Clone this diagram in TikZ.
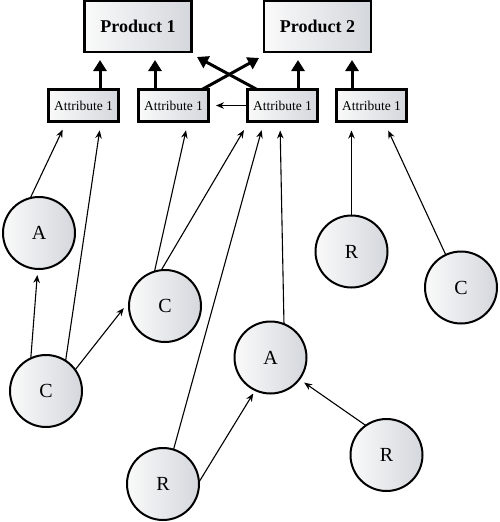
\documentclass[tikz,border=0pt]{standalone}
\usepackage{fontspec}
\setmainfont{Liberation Serif}
\usetikzlibrary{arrows.meta,calc}
\definecolor{shL}{RGB}{250,250,250}
\definecolor{shR}{RGB}{212,215,220}
\begin{document}
\begin{tikzpicture}[x=1pt,y=-1pt]
\tikzset{
 prod/.style={draw, line width=2.6pt, left color=shL, right color=shR, minimum width=107pt, minimum height=51pt, inner sep=0pt, outer sep=0pt, font=\fontsize{18}{21}\selectfont\bfseries},
 attr/.style={draw, line width=2.6pt, left color=shL, right color=shR, minimum width=70pt, minimum height=32pt, inner sep=0pt, outer sep=0pt, font=\fontsize{13.5}{16}\selectfont},
 circ/.style={circle, draw, line width=2pt, left color=shL, right color=shR, minimum size=72pt, inner sep=0pt, outer sep=0pt, font=\fontsize{20}{22}\selectfont},
 thinarr/.style={line width=1.1pt, -{Stealth[length=8pt,width=6.5pt]}},
 bigarr/.style={line width=3pt, -{Triangle[length=11pt,width=13pt]}},
}
\useasboundingbox (0,0) rectangle (500,522);
% products
\node[prod] (p1) at (138,26.5) {Product 1};
\node[prod] (p2) at (317.5,26.5) {Product 2};
% attributes
\node[attr] (a1) at (83.5,105.5) {Attribute 1};
\node[attr] (a2) at (173.5,105.5) {Attribute 1};
\node[attr] (a3) at (282.5,105.5) {Attribute 1};
\node[attr] (a4) at (371.5,105.5) {Attribute 1};
% circles
\node[circ] (cA) at (39,233) {A};
\node[circ] (cC2) at (165,306) {C};
\node[circ] (cR1) at (351.5,251.5) {R};
\node[circ] (cC3) at (461,287.5) {C};
\node[circ] (cC1) at (46,391) {C};
\node[circ] (cAm) at (270.5,357.5) {A};
\node[circ] (cRb) at (163,484) {R};
\node[circ] (cRr) at (386.5,455) {R};
% thick arrows
\draw[bigarr, shorten >=8pt] ($(a1.north west)+(51.5,0)$) -- ($(a1.north west |- p1.south)+(51.5,0)$);
\draw[bigarr, shorten >=8pt] ($(a2.north west)+(16.5,0)$) -- ($(a2.north west |- p1.south)+(16.5,0)$);
\draw[bigarr, shorten >=8pt] ($(a3.north west)+(50.5,0)$) -- ($(a3.north west |- p2.south)+(50.5,0)$);
\draw[bigarr, shorten >=8pt] ($(a4.north west)+(15.5,0)$) -- ($(a4.north west |- p2.south)+(15.5,0)$);
\draw[bigarr] ($(a2.north west)+(63.5,0)$) -- ($(p2.south west)+(-5,6)$);
\draw[bigarr] ($(a3.north west)+(9.5,0)$) -- ($(p1.south east)+(5.5,5)$);
% thin arrows
\draw[thinarr, shorten >=7.5pt] (a3.west) -- (a2.east);
\draw[thinarr, shorten >=9pt] (cA.104) -- ($(a1.south west)+(18,0)$);
\draw[thinarr, shorten >=9pt] (cC1.57) -- ($(a1.south west)+(52.5,0)$);
\draw[thinarr, shorten >=6pt] (cC1.115) -- (cA.268);
\draw[thinarr, shorten >=9pt] (cC1.36) -- (cC2.172);
\draw[thinarr, shorten >=9pt] (cC2.107) -- ($(a2.south west)+(49.5,0)$);
\draw[thinarr, shorten >=10pt] (cC2.96) -- ($(a3.south west)+(1.5,0)$);
\draw[thinarr, shorten >=9pt] (cRb.73) -- ($(a3.south west)+(16.5,0)$);
\draw[thinarr, shorten >=9pt] (cAm.68) -- ($(a3.south west)+(32.5,0)$);
\draw[thinarr, shorten >=9pt] (cR1.north) -- (cR1.north |- a4.south);
\draw[thinarr, shorten >=10pt] (cC3.115) -- ($(a4.south west)+(47.5,0)$);
\draw[thinarr, shorten >=4pt] (cRb.3) -- (cAm.245);
\draw[thinarr, shorten >=6pt] (cRr.125) -- (cAm.323);
\end{tikzpicture}
\end{document}
